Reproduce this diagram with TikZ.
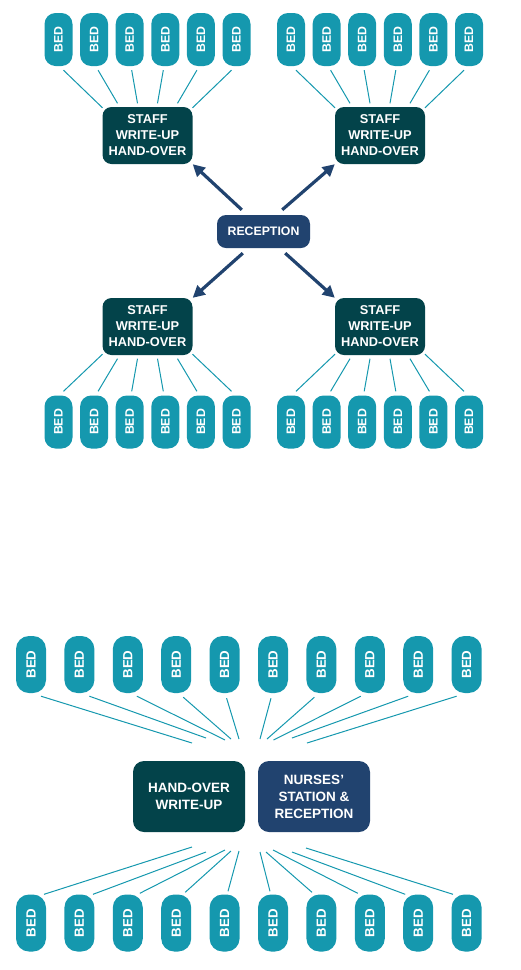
\documentclass[tikz,border=0pt]{standalone}
\usepackage{fontspec}
\setmainfont{Liberation Sans}
\usetikzlibrary{
  positioning,
  arrows.meta,
  calc
}

\definecolor{bedteal}{HTML}{1598AE}
\definecolor{staffgreen}{HTML}{03434A}
\definecolor{recnavy}{HTML}{21436F}

\begin{document}
\begin{tikzpicture}[
  x=1pt, y=-1pt,
  bedbox/.style={
    rectangle,
    rounded corners=11pt,
    fill=bedteal,
    text=white,
    inner sep=0pt,
    minimum width=28pt,
    minimum height=53pt,
    font=\bfseries\fontsize{12.3}{13}\selectfont
  },
  bigbed/.style={
    bedbox,
    rounded corners=13pt,
    minimum width=30pt,
    minimum height=57pt,
    font=\bfseries\fontsize{13.3}{14}\selectfont
  },
  staffbox/.style={
    rectangle,
    rounded corners=9pt,
    fill=staffgreen,
    text=white,
    align=center,
    inner sep=0pt,
    minimum width=90pt,
    minimum height=57pt,
    font=\bfseries\fontsize{12.8}{16}\selectfont
  },
  recbox/.style={
    staffbox,
    fill=recnavy,
    minimum width=93pt,
    minimum height=33pt,
    font=\bfseries\fontsize{12.3}{14}\selectfont
  },
  hubbox/.style={
    staffbox,
    rounded corners=11pt,
    minimum width=112pt,
    minimum height=71pt,
    font=\bfseries\fontsize{13.5}{17}\selectfont
  },
  link/.style={
    draw=bedteal,
    line width=1pt
  },
  arr/.style={
    -{Triangle[length=12pt, width=12pt]},
    line width=3.2pt,
    draw=recnavy
  }
]
\useasboundingbox (0,0) rectangle (520,970);

% Upper plan: reception in the middle
\node[recbox] (rec) at (263.5,231.5) {RECEPTION};

% Top groups: beds above their staff box
\foreach \g/\cx in {tl/147.5, tr/380}{
  \node[staffbox] (s\g) at (\cx,135.5) {STAFF\\WRITE-UP\\HAND-OVER};
  \foreach \i/\sx/\ex/\ey in {1/5/-45/1, 2/4/-30/-3.5, 3/2/-10/-3.5, 4/-2/10/-3.5, 5/-4/30/-3.5, 6/-5/45/1}{
    \node[bedbox] (\g\i) at ({\cx+(\i-3.5)*35.6},39.5) {\rotatebox{90}{BED}};
    \draw[link] ($(\g\i.south)+(\sx,4)$) -- ($(s\g.north)+(\ex,\ey)$);
  }
}

% Bottom groups: staff box above its beds
\foreach \g/\cx in {bl/147.5, br/380}{
  \node[staffbox] (s\g) at (\cx,326.5) {STAFF\\WRITE-UP\\HAND-OVER};
  \foreach \i/\sx/\ex/\ey in {1/5/-45/-1, 2/4/-30/3.5, 3/2/-10/3.5, 4/-2/10/3.5, 5/-4/30/3.5, 6/-5/45/-1}{
    \node[bedbox] (\g\i) at ({\cx+(\i-3.5)*35.6},422) {\rotatebox{90}{BED}};
    \draw[link] ($(s\g.south)+(\ex,\ey)$) -- ($(\g\i.north)+(\sx,-4)$);
  }
}

% Reception to the four staff boxes
\draw[arr] ($(rec.north west)+(25,-5)$) -- (stl.south east);
\draw[arr] ($(rec.north east)+(-28,-5)$) -- (str.south west);
\draw[arr] ($(rec.south west)+(26,5)$) -- (sbl.north east);
\draw[arr] ($(rec.south east)+(-25,5)$) -- (sbr.north west);

% Lower plan: one central station
\node[hubbox] (ho) at (189,796.5) {HAND-OVER\\WRITE-UP};
\node[hubbox, fill=recnavy] (ns) at (314,796.5) {NURSES'\\STATION \&\\RECEPTION};
\coordinate (tophub) at (249.5,740);
\coordinate (bothub) at (249.5,850);

\foreach \i/\sx/\sy/\ex/\ey in {1/10/3/-57.5/3, 2/10/3/-43.5/-2, 3/9/3/-24.5/0, 4/7/4/-18.5/-1, 5/2/5/-10.5/-1,
                                6/-2/5/10.5/-1, 7/-7/4/17.5/-1, 8/-9/3/24/0, 9/-10/3/42.5/-2, 10/-10/3/57.5/3}{
  \node[bigbed] (tb\i) at ({31+(\i-1)*48.4},664.5) {\rotatebox{90}{BED}};
  \draw[link] ($(tb\i.south)+(\sx,\sy)$) -- ($(tophub)+(\ex,\ey)$);
}

\foreach \i/\sx/\sy/\ex/\ey in {1/13/0/-57.5/-3, 2/13.6/0/-43.5/2, 3/12/-1/-24.5/0, 4/9/-2/-18.5/1, 5/3.4/-3/-10.5/1,
                                6/-3/-3/10.5/2, 7/-9.4/-2/16.5/2, 8/-12/-1/23.5/0, 9/-13/0/42.5/2, 10/-13.6/0/56.5/-2}{
  \node[bigbed] (bb\i) at ({31+(\i-1)*48.4},923) {\rotatebox{90}{BED}};
  \draw[link] ($(bb\i.north)+(\sx,\sy)$) -- ($(bothub)+(\ex,\ey)$);
}

\end{tikzpicture}
\end{document}
